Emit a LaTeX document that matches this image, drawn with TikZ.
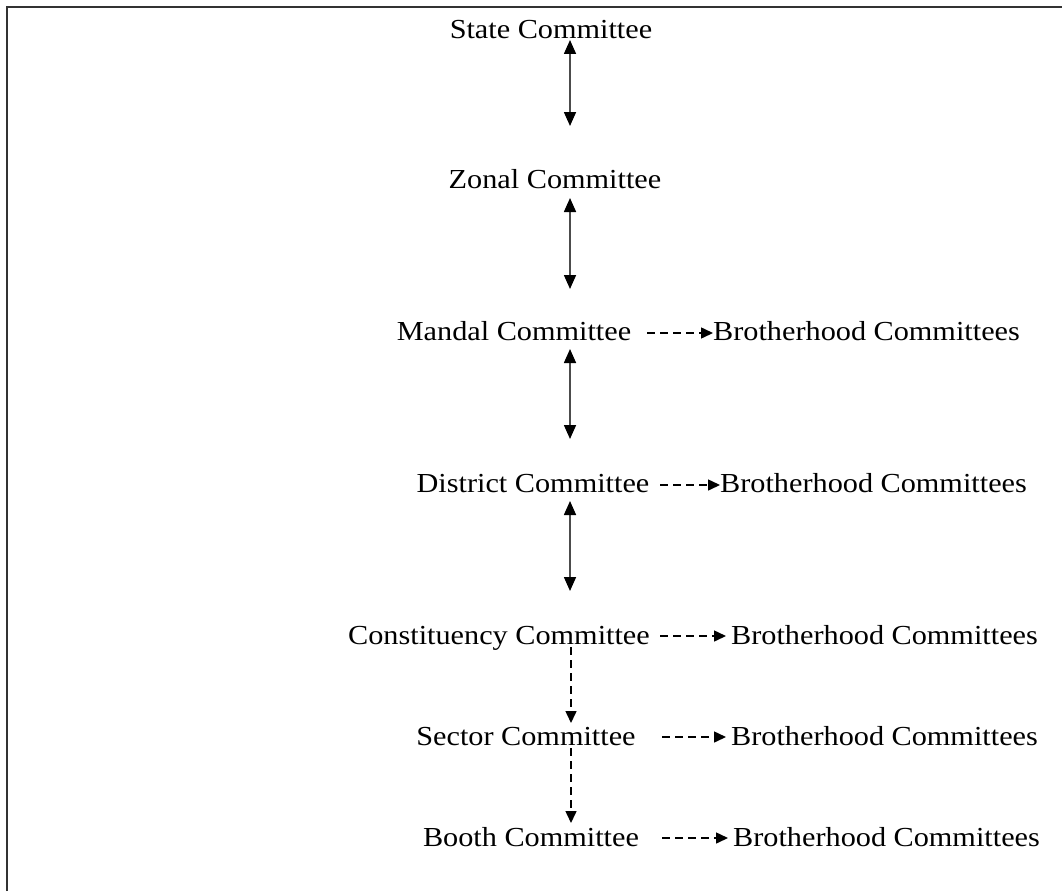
\documentclass[tikz,border=0pt]{standalone}
\usepackage{fontspec}
\setmainfont[FakeStretch=1.1]{Liberation Serif}
\usetikzlibrary{arrows.meta}
\begin{document}
\begin{tikzpicture}[x=1pt,y=-1pt,
  lbl/.style={inner sep=0pt,anchor=base,font=\fontsize{27.5}{30}\selectfont},
  lblw/.style={inner sep=0pt,anchor=base west,font=\fontsize{27.5}{30}\selectfont},
  solidarrow/.style={{Triangle[width=12pt,length=14pt,color=black]}-{Triangle[width=12pt,length=14pt,color=black]},line width=1.6pt,draw=black!70},
  dasharrow/.style={-{Triangle[width=11pt,length=12pt]},line width=1.5pt,dash pattern=on 8pt off 5pt},
  frame/.style={line width=2pt,draw=black!80}]
\useasboundingbox (0,0) rectangle (1062,891);
\coordinate (fl) at (7,891);
\coordinate (fc) at (7,7);
\coordinate (fr) at (1062,7);
\draw[frame] (fl) -- (fc) -- (fr);

\node[lbl] (state) at (551,38) {State Committee};
\node[lbl] (zonal) at (555,188) {Zonal Committee};
\node[lbl] (mandal) at (514,340) {Mandal Committee};
\node[lbl] (district) at (533,492) {District Committee};
\node[lbl] (const) at (499,644) {Constituency Committee};
\node[lbl] (sector) at (526,745) {Sector Committee};
\node[lbl] (booth) at (531,846) {Booth Committee};

\node[lblw] (bm) at (713,340) {Brotherhood Committees};
\node[lblw] (bd) at (720,492) {Brotherhood Committees};
\node[lblw] (bc) at (731,644) {Brotherhood Committees};
\node[lblw] (bs) at (731,745) {Brotherhood Committees};
\node[lblw] (bb) at (733,846) {Brotherhood Committees};

% vertical solid arrows
\coordinate (v1a) at (570,40);  \coordinate (v1b) at (570,126);
\coordinate (v2a) at (570,198); \coordinate (v2b) at (570,289);
\coordinate (v3a) at (570,349); \coordinate (v3b) at (570,439);
\coordinate (v4a) at (570,501); \coordinate (v4b) at (570,591);
\draw[solidarrow] (v1a) -- (v1b);
\draw[solidarrow] (v2a) -- (v2b);
\draw[solidarrow] (v3a) -- (v3b);
\draw[solidarrow] (v4a) -- (v4b);

% vertical dashed arrows
\coordinate (d1a) at (571,647); \coordinate (d1b) at (571,723);
\coordinate (d2a) at (571,748); \coordinate (d2b) at (571,823);
\draw[dasharrow] (d1a) -- (d1b);
\draw[dasharrow] (d2a) -- (d2b);

% horizontal dashed arrows
\coordinate (h1) at (647,333);
\coordinate (h2) at (660,485);
\coordinate (h3) at (660,636);
\coordinate (h4) at (662,737);
\coordinate (h5) at (662,838);
\draw[dasharrow] (h1) -- (h1 -| bm.west);
\draw[dasharrow] (h2) -- (h2 -| bd.west);
\draw[dasharrow] (h3) -- ([xshift=-5pt]h3 -| bc.west);
\draw[dasharrow] (h4) -- ([xshift=-5pt]h4 -| bs.west);
\draw[dasharrow] (h5) -- ([xshift=-5pt]h5 -| bb.west);
\end{tikzpicture}
\end{document}
